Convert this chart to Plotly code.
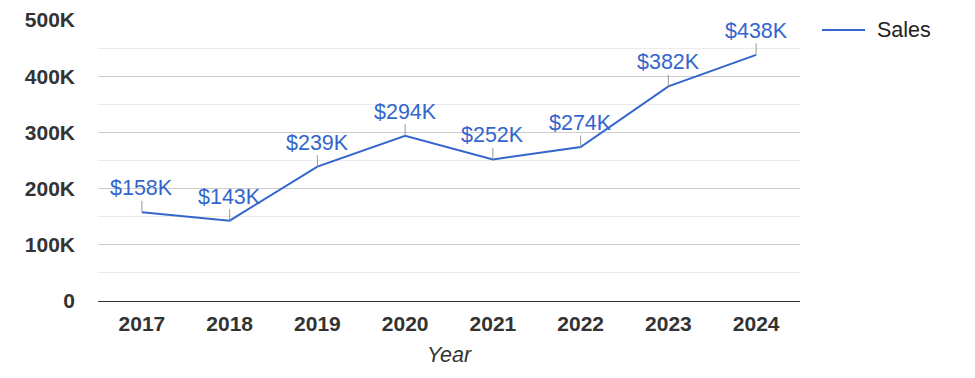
import plotly.graph_objects as go

years = ["2017", "2018", "2019", "2020", "2021", "2022", "2023", "2024"]
sales = [158000, 143000, 239000, 294000, 252000, 274000, 382000, 438000]
labels = ["$158K", "$143K", "$239K", "$294K", "$252K", "$274K", "$382K", "$438K"]
y_tickvals = [0, 100000, 200000, 300000, 400000, 500000]
y_ticktext = ["0", "100K", "200K", "300K", "400K", "500K"]
series_name = "Sales"

FONT = "Liberation Sans, Arial, sans-serif"
BLUE = "#3366cc"
TXT = 21.5
BOLD = 21

fig = go.Figure()
fig.add_trace(go.Scatter(
    x=years, y=sales, mode="lines", name=series_name,
    line=dict(color=BLUE, width=2),
    hoverinfo="skip", showlegend=False,
))

for i, (v, lab) in enumerate(zip(sales, labels)):
    fig.add_annotation(
        x=i, y=v, xref="x", yref="y", text=lab, showarrow=True,
        ax=0, ay=-24, arrowhead=0, arrowwidth=1, arrowcolor="#999999",
        font=dict(family=FONT, size=TXT, color=BLUE),
        borderpad=0,
    )

# legend drawn manually (line + label)
fig.add_shape(type="line", xref="paper", yref="paper",
              x0=1.0313, x1=1.0926, y0=0.9644, y1=0.9644,
              line=dict(color=BLUE, width=2))
fig.add_annotation(xref="paper", yref="paper", x=1.1068, y=0.9644,
                   xanchor="left", yanchor="middle", showarrow=False,
                   text=series_name,
                   font=dict(family=FONT, size=TXT, color="#222222"))

fig.update_layout(
    width=967, height=370,
    margin=dict(l=90, r=175, t=12, b=77, autoexpand=False),
    paper_bgcolor="white", plot_bgcolor="white",
    font=dict(family=FONT, size=TXT, color="#333333"),
    showlegend=False,
    xaxis=dict(
        type="category", range=[-0.5, 7.5], automargin=False,
        showgrid=False, showline=True, linecolor="#333333", linewidth=1,
        ticks="", tickfont=dict(family=FONT, size=BOLD, color="#333333", weight="bold"),
        ticklabelstandoff=4,
        title=dict(text="Year", font=dict(family=FONT, size=TXT, color="#333333", style="italic"), standoff=12),
        zeroline=False,
    ),
    yaxis=dict(
        range=[0, 500000], tickvals=y_tickvals, ticktext=y_ticktext, automargin=False,
        showgrid=True, gridcolor="#cccccc", gridwidth=1,
        minor=dict(dtick=50000, showgrid=True, gridcolor="#ebebeb", gridwidth=1),
        showline=False, zeroline=False, ticks="",
        tickfont=dict(family=FONT, size=BOLD, color="#333333", weight="bold"),
        ticklabelstandoff=22,
    ),
)

fig.write_html("out.html")
